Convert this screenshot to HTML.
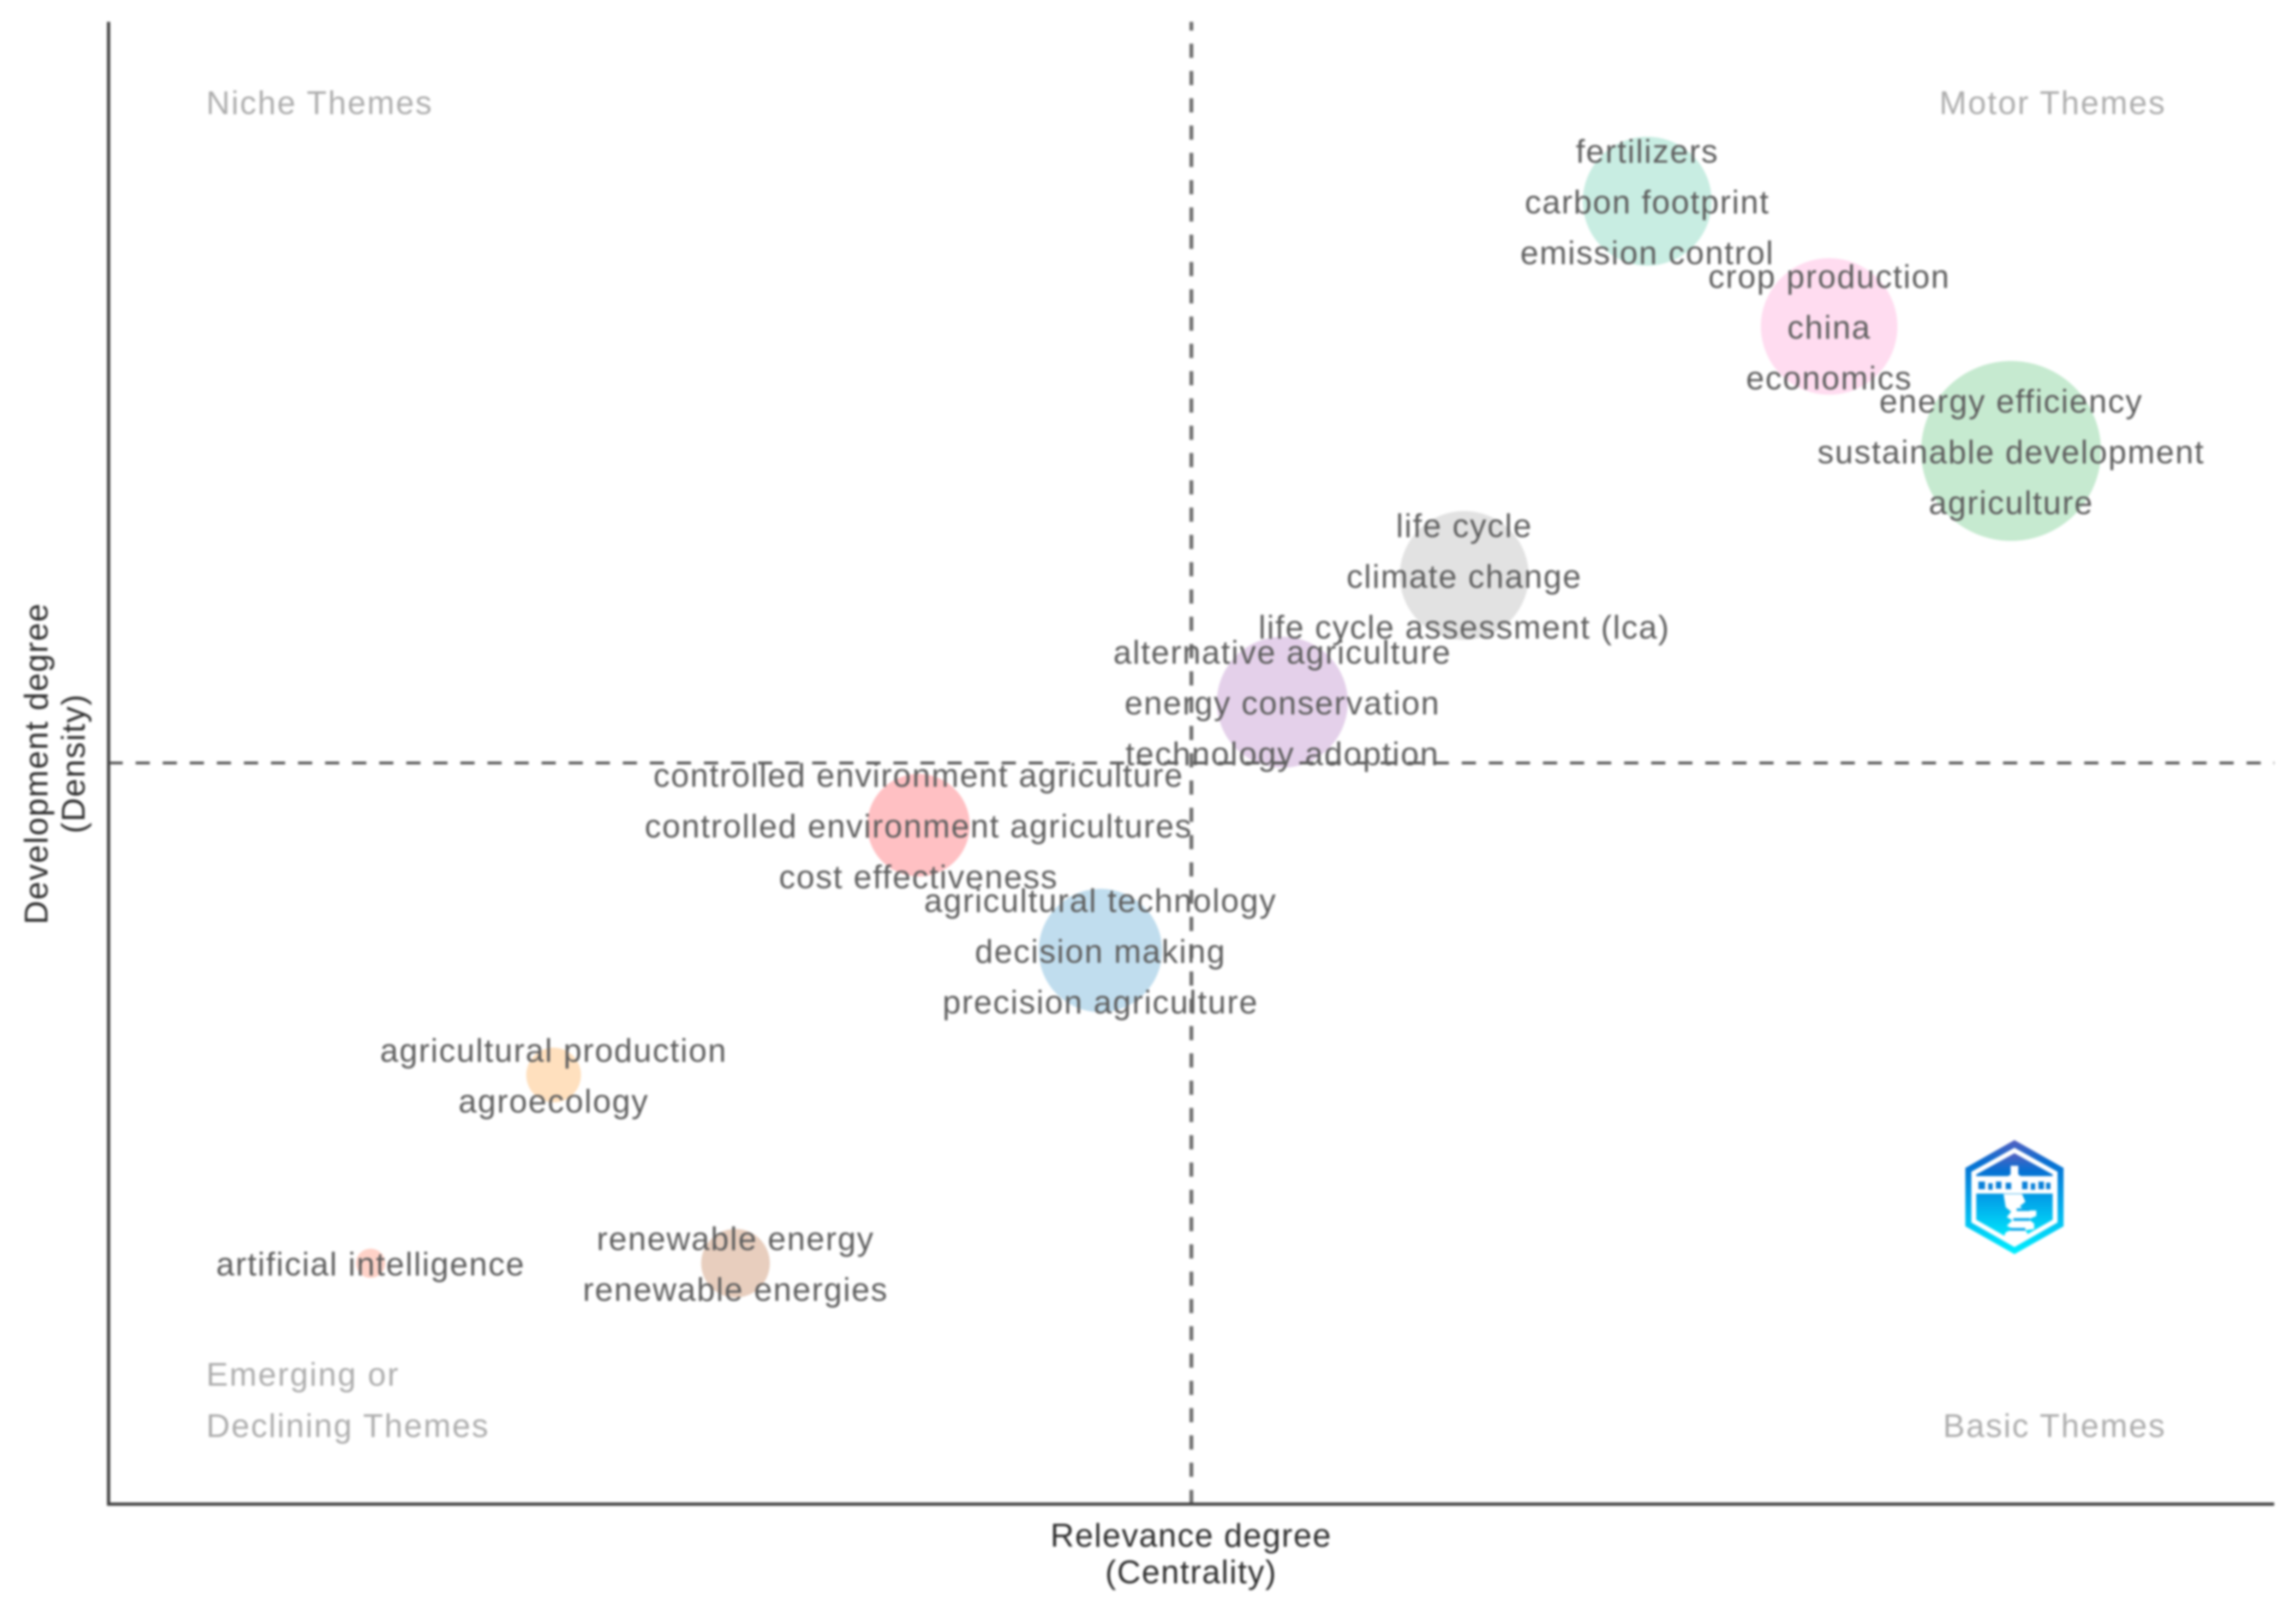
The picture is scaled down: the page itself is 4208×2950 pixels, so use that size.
<!DOCTYPE html>
<html lang="en">
<head>
<meta charset="utf-8">
<title>Thematic map</title>
<style>
  html, body { margin: 0; padding: 0; background: #fff; }
  svg { display: block; filter: blur(2px); }
  text { font-family: "Liberation Sans", Arial, sans-serif; font-size: 60px; letter-spacing: 2px; }
  .label { fill: #5e5e5e; text-anchor: middle; dominant-baseline: central; }
  .quad { fill: #adadad; letter-spacing: 2.5px; }
  .title { fill: #2e2e2e; text-anchor: middle; letter-spacing: 1.8px; }
</style>
</head>
<body>
<svg id="chart" xmlns="http://www.w3.org/2000/svg" width="4208" height="2950" viewBox="0 0 4208 2950">
  <defs>
    <linearGradient id="logo-gradient" x1="0" y1="0" x2="0" y2="1">
      <stop offset="0" stop-color="#5560c0"/>
      <stop offset="0.2" stop-color="#0670d2"/>
      <stop offset="0.55" stop-color="#02a6ea"/>
      <stop offset="1" stop-color="#00f0ff"/>
    </linearGradient>
  </defs>
  <rect width="4208" height="2950" fill="#ffffff"/>
  <g id="bubbles"></g>
  <g id="guides"></g>
  <g id="axes"></g>
  <g id="labels"></g>

  <g>
    <text class="quad" x="378" y="209">Niche Themes</text>
    <text class="quad" x="3970" y="209" text-anchor="end">Motor Themes</text>
    <text class="quad" x="378" y="2539">Emerging or</text>
    <text class="quad" x="378" y="2633">Declining Themes</text>
    <text class="quad" x="3970" y="2633" text-anchor="end">Basic Themes</text>
  </g>

  <g>
    <text class="title" x="2183" y="2834">Relevance degree</text>
    <text class="title" x="2183" y="2901">(Centrality)</text>
  </g>
  <g>
    <text class="title" transform="translate(87,1399) rotate(-90)">Development degree</text>
    <text class="title" transform="translate(155,1399) rotate(-90)">(Density)</text>
  </g>

  <g>
    <polygon points="3692,2089 3782,2140 3782,2247 3692,2298 3602,2247 3602,2140" fill="url(#logo-gradient)"/>
    <polygon points="3692,2103 3771,2147 3771,2240 3692,2285 3613,2240 3613,2147" fill="#ffffff"/>
    <polygon points="3692,2113 3762,2152 3762,2235 3692,2275 3622,2235 3622,2152" fill="url(#logo-gradient)"/>
    <rect x="3616" y="2155" width="152" height="32" fill="#ffffff"/>
    <path d="M3626 2165h12v14h-12zM3644 2168h8v12h-8zM3658 2165h10v13h-10zM3676 2167h10v12h-10zM3706 2165h10v14h-10zM3722 2168h8v12h-8zM3736 2165h10v14h-10zM3750 2167h8v12h-8z" fill="#0a80d8"/>
    <path d="M3685 2136h14v16l12 8h-38l12-8zM3672 2188h34l6 14-10 8 8 8h22v10l-14 6 10 8v10l-16 2 6 10-18 14-12-4-16-6 4-10 14-6-12-6 10-10-10-6 8-10-10-8z" fill="#ffffff"/>
    <path d="M3696 2214h24v5h-24zM3690 2232h30v5h-30zM3684 2250h28v5h-28z" fill="#08a8ea"/>
  </g>

  <script>
    // Theme data (normalised centrality / density rank scores, bubble frequency)
    const themeNames = ['fertilizers-theme', 'china-theme', 'agriculture-theme', 'climate-change-theme', 'energy-conservation-theme', 'controlled-environment-theme', 'decision-making-theme', 'agroecology-theme', 'renewable-energy-theme', 'artificial-intelligence-theme'];
    const centrality = [0.421, 0.589, 0.757, 0.252, 0.084, -0.252, -0.084, -0.589, -0.421, -0.758];
    const density = [0.758, 0.589, 0.421, 0.253, 0.082, -0.084, -0.253, -0.421, -0.675, -0.675];
    const frequency = [15.5, 17.4, 30.2, 15.5, 16.0, 9.8, 14.2, 2.8, 4.4, 0.8];
    const themeLabels = [
      ['fertilizers', 'carbon footprint', 'emission control'],
      ['crop production', 'china', 'economics'],
      ['energy efficiency', 'sustainable development', 'agriculture'],
      ['life cycle', 'climate change', 'life cycle assessment (lca)'],
      ['alternative agriculture', 'energy conservation', 'technology adoption'],
      ['controlled environment agriculture', 'controlled environment agricultures', 'cost effectiveness'],
      ['agricultural technology', 'decision making', 'precision agriculture'],
      ['agricultural production', 'agroecology'],
      ['renewable energy', 'renewable energies'],
      ['artificial intelligence']
    ];
    const palette = ['#c8ede2', '#ffdcf0', '#c6ead0', '#e2e2e2', '#e4d0ea', '#ffc0c3', '#c0ddee', '#ffe0be', '#e8cebe', '#ffd2c8'];

    const NS = 'http://www.w3.org/2000/svg';
    const plot = { left: 199, right: 4168, top: 40, bottom: 2756 };
    const lineHeight = 93;
    const labelShift = 2;

    function xScale(v) { return plot.left + (v + 1) / 2 * (plot.right - plot.left); }
    function yScale(v) { return plot.bottom - (v + 1) / 2 * (plot.bottom - plot.top); }
    function rScale(v) { return 30 * Math.sqrt(v); }

    function line(x1, y1, x2, y2, color, width, dash) {
      const el = document.createElementNS(NS, 'line');
      el.setAttribute('x1', x1);
      el.setAttribute('y1', y1);
      el.setAttribute('x2', x2);
      el.setAttribute('y2', y2);
      el.setAttribute('stroke', color);
      el.setAttribute('stroke-width', width);
      if (dash) el.setAttribute('stroke-dasharray', dash);
      return el;
    }

    const bubbleGroup = document.getElementById('bubbles');
    const labelGroup = document.getElementById('labels');
    const guideGroup = document.getElementById('guides');
    const axisGroup = document.getElementById('axes');

    centrality.forEach(function (c, i) {
      const cx = xScale(c);
      const cy = yScale(density[i]);
      const bubble = document.createElementNS(NS, 'circle');
      bubble.setAttribute('cx', cx);
      bubble.setAttribute('cy', cy);
      bubble.setAttribute('r', rScale(frequency[i]));
      bubble.setAttribute('fill', palette[i]);
      
      
      bubbleGroup.appendChild(bubble);

      const words = themeLabels[i];
      words.forEach(function (word, j) {
        const t = document.createElementNS(NS, 'text');
        t.setAttribute('class', 'label');
        t.setAttribute('x', cx);
        t.setAttribute('y', cy + labelShift + (j - (words.length - 1) / 2) * lineHeight);
        
        
        t.textContent = word;
        labelGroup.appendChild(t);
      });
    });

    const hGuide = line(plot.left, yScale(0), plot.right, yScale(0), '#555555', 5, '26 23.6');
    
    
    guideGroup.appendChild(hGuide);

    const vGuide = line(xScale(0), plot.bottom, xScale(0), plot.top, '#707070', 7, '26 24');
    
    
    guideGroup.appendChild(vGuide);

    const xAxis = line(plot.left - 3, plot.bottom, plot.right, plot.bottom, '#444444', 6);
    
    
    axisGroup.appendChild(xAxis);

    const yAxis = line(plot.left, plot.top, plot.left, plot.bottom, '#444444', 6);
    
    
    axisGroup.appendChild(yAxis);
  </script>
</svg>
</body>
</html>
